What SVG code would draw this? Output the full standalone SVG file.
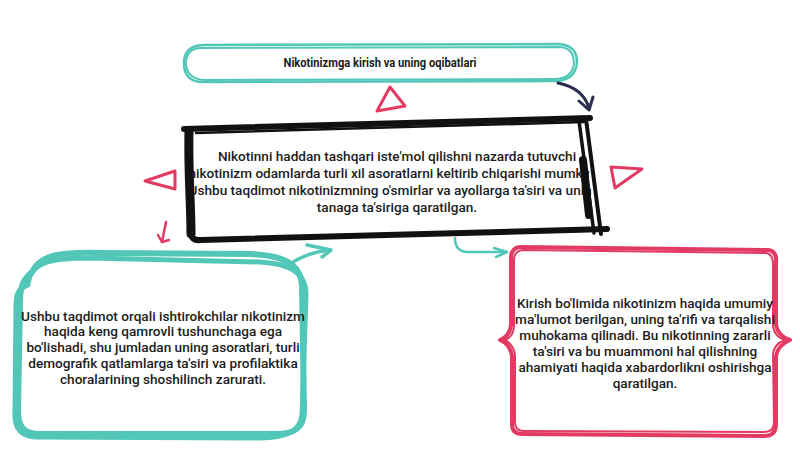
<svg xmlns="http://www.w3.org/2000/svg" width="800" height="450" viewBox="0 0 800 450">
  <defs>
    <style>
      .teal { fill: none; stroke: #52c7b8; stroke-linecap: round; stroke-linejoin: round; }
      .red { fill: none; stroke: #e23a62; stroke-linecap: round; stroke-linejoin: round; }
      .ink { fill: none; stroke: #111; stroke-linecap: round; stroke-linejoin: round; }
      .navy { fill: none; stroke: #2b2d4f; stroke-linecap: round; stroke-linejoin: round; }
      .body { font-family: Roboto, "Liberation Sans", sans-serif; font-size: 13.6px; font-weight: 500; fill: #1c1c1c; text-anchor: middle; }
      .title { font-family: Roboto, "Liberation Sans", sans-serif; font-size: 13px; font-weight: 700; fill: #1c1c1c; text-anchor: middle; }
    </style>
    <clipPath id="centerClip">
      <path d="M 192,132 L 584,121 L 596,232 L 194,238 Z"/>
    </clipPath>
  </defs>
  <rect width="800" height="450" fill="#ffffff"/>

  <g id="node-title">
    <path class="teal" stroke-width="2.5" d="M 203,45 L 558,44 Q 577,45 577,62 Q 576,80 556,81 L 203,82 Q 184,82 184,63 Q 184,46 203,45 Z"/>
    <path class="teal" stroke-width="2" d="M 200,48 L 560,47 Q 574,48 574,64 Q 572,79 554,79 L 205,80 Q 187,79 186,64 Q 186,49 200,48 Z"/>
    <text class="title" x="380" y="67" textLength="193" lengthAdjust="spacingAndGlyphs">Nikotinizmga kirish va uning oqibatlari</text>
  </g>

  <g id="node-center">
    <g clip-path="url(#centerClip)">
      <text class="body" x="397" y="161">Nikotinni haddan tashqari iste'mol qilishni nazarda tutuvchi</text>
      <text class="body" x="393" y="178">nikotinizm odamlarda turli xil asoratlarni keltirib chiqarishi mumkin.</text>
      <text class="body" x="394" y="195">Ushbu taqdimot nikotinizmning o'smirlar va ayollarga ta'siri va uning</text>
      <text class="body" x="397" y="212">tanaga ta'siriga qaratilgan.</text>
    </g>
    <path class="ink" stroke-width="6" d="M 184,129 L 590,118"/>
    <path class="ink" stroke-width="2.5" d="M 196,133 L 584,122"/>
    <path class="ink" stroke-width="9" d="M 189,131 C 188,170 191,205 191,234"/>
    <path class="ink" stroke-width="6" d="M 191,234 Q 192,241 201,240 L 607,229"/>
    <path class="ink" stroke-width="3.5" d="M 579,121 L 594,233"/>
    <path class="ink" stroke-width="4" d="M 586,119 L 601,234"/>
    <path class="ink" stroke-width="8" d="M 583,160 L 589,215"/>
  </g>

  <g id="node-left">
    <path class="teal" stroke-width="6" d="M 32,272 C 40,255 60,252 100,253 L 250,254 C 280,255 300,262 302,285 L 304,410 C 304,428 295,434 275,434 L 40,434 C 22,434 18,425 18,410 L 20,300 C 20,285 25,278 32,272 Z"/>
    <path class="teal" stroke-width="5" d="M 28,285 C 30,262 50,258 90,258 L 260,262 C 290,264 306,272 306,295 L 302,415 C 300,432 285,438 260,438 L 35,437 C 20,436 14,428 15,412 L 16,305 C 16,292 20,288 28,285 Z"/>
    <text class="body" x="163" y="320.5">Ushbu taqdimot orqali ishtirokchilar nikotinizm</text>
    <text class="body" x="163" y="336.3">haqida keng qamrovli tushunchaga ega</text>
    <text class="body" x="163" y="352">bo'lishadi, shu jumladan uning asoratlari, turli</text>
    <text class="body" x="163" y="367.8">demografik qatlamlarga ta'siri va profilaktika</text>
    <text class="body" x="163" y="383.5">choralarining shoshilinch zarurati.</text>
  </g>

  <g id="node-right">
    <path class="red" stroke-width="4" d="M 520,247 L 768,250 Q 777,251 776,262 L 776,325 Q 778,336 790,340 Q 778,345 776,356 L 776,424 Q 776,436 764,436 L 522,434 Q 512,434 512,424 L 512,356 Q 510,344 500,340 Q 510,336 511,325 L 511,258 Q 511,248 520,247 Z"/>
    <path class="red" stroke-width="2" d="M 523,250 L 766,253 Q 773,254 773,264 L 773,327 Q 775,337 785,340 Q 774,344 773,354 L 774,422 Q 774,432 764,432 L 524,431 Q 515,431 515,422 L 515,354 Q 513,344 505,340 Q 513,337 514,327 L 514,260 Q 514,251 523,250 Z"/>
    <text class="body" x="645" y="307.5">Kirish bo'limida nikotinizm haqida umumiy</text>
    <text class="body" x="645" y="323.5">ma'lumot berilgan, uning ta'rifi va tarqalishi</text>
    <text class="body" x="645" y="339.5">muhokama qilinadi. Bu nikotinning zararli</text>
    <text class="body" x="645" y="355.5">ta'siri va bu muammoni hal qilishning</text>
    <text class="body" x="645" y="371.5">ahamiyati haqida xabardorlikni oshirishga</text>
    <text class="body" x="645" y="387.5">qaratilgan.</text>
  </g>

  <g id="decor">
    <polygon class="red" stroke-width="3" points="377,111 390,87 405,106"/>
    <polygon class="red" stroke-width="3" points="145,181 175,171 175,189"/>
    <polygon class="red" stroke-width="3" points="611,167 642,169 615,188"/>
  </g>

  <g id="connectors">
    <path class="navy" stroke-width="3" d="M 558,83 Q 583,88 589,108"/>
    <path class="navy" stroke-width="3" d="M 579,101 L 589,110 L 593,97"/>
    <path class="teal" stroke-width="3.5" d="M 290,264 Q 308,252 330,250"/>
    <path class="teal" stroke-width="3.5" d="M 307,245 L 331,250 L 322,257"/>
    <path class="teal" stroke-width="2.5" d="M 455,238 Q 455,252 468,252 L 505,252"/>
    <path class="teal" stroke-width="2.5" d="M 494,248 L 507,252 L 496,257"/>
    <path class="red" stroke-width="2.5" d="M 166,222 L 162,242"/>
    <path class="red" stroke-width="2.5" d="M 158,235 L 162,242 L 169,240"/>
  </g>
</svg>
